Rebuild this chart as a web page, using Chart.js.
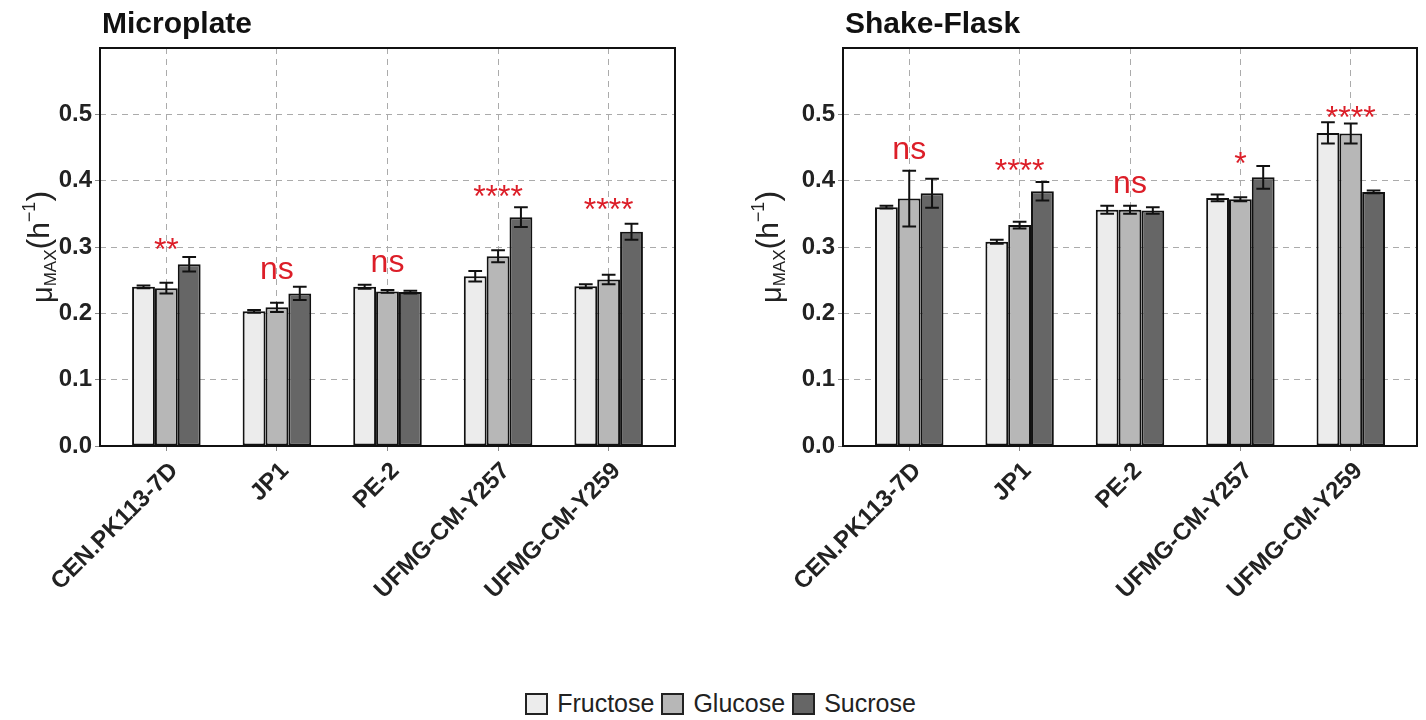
<!DOCTYPE html>
<html>
<head>
<meta charset="utf-8">
<script src="https://cdn.jsdelivr.net/npm/chart.js@4.4.1/dist/chart.umd.min.js"></script>
<style>
  body { margin: 0; background: #fff; width: 1426px; height: 720px; position: relative; overflow: hidden;
         font-family: "Liberation Sans", Arial, sans-serif; }
  canvas { position: absolute; top: 0; }
  #microplate { left: 0; }
  #flask { left: 713px; }
  #legend { position: absolute; left: 0; top: 689px; width: 1434px; display: flex; justify-content: center;
            align-items: center; font-size: 25px; color: #222; }
  #legend span.sw { display: inline-block; width: 19px; height: 18px; border: 2px solid #222; margin: 0 9px 0 7px; }
</style>
</head>
<body>
<canvas id="microplate" width="713" height="660"></canvas>
<canvas id="flask" width="713" height="660"></canvas>
<div id="legend">
  <span class="sw" style="background:#ececec"></span>Fructose
  <span class="sw" style="background:#b7b7b7"></span>Glucose
  <span class="sw" style="background:#666666"></span>Sucrose
</div>
<script>
const strains = ["CEN.PK113-7D", "JP1", "PE-2", "UFMG-CM-Y257", "UFMG-CM-Y259"];
const sugars = ["Fructose", "Glucose", "Sucrose"];
const sugarColors = ["#ececec", "#b7b7b7", "#666666"];
const yTicks = [0, 0.1, 0.2, 0.3, 0.4, 0.5];

// Microplate: mean and sd per strain
const microFructose = [0.240, 0.203, 0.240, 0.256, 0.241];
const microFructoseSd = [0.002, 0.002, 0.003, 0.008, 0.003];
const microGlucose = [0.238, 0.209, 0.233, 0.286, 0.251];
const microGlucoseSd = [0.008, 0.007, 0.002, 0.009, 0.007];
const microSucrose = [0.274, 0.230, 0.232, 0.345, 0.323];
const microSucroseSd = [0.011, 0.010, 0.002, 0.015, 0.012];
const microSig = ["**", "ns", "ns", "****", "****"];
const microSigY = [0.280, 0.2525, 0.2625, 0.361, 0.340];

// Shake-Flask
const flaskFructose = [0.360, 0.308, 0.356, 0.374, 0.472];
const flaskFructoseSd = [0.002, 0.003, 0.006, 0.005, 0.016];
const flaskGlucose = [0.373, 0.333, 0.356, 0.372, 0.471];
const flaskGlucoseSd = [0.042, 0.005, 0.006, 0.003, 0.015];
const flaskSucrose = [0.381, 0.384, 0.355, 0.405, 0.383];
const flaskSucroseSd = [0.022, 0.014, 0.005, 0.017, 0.002];
const flaskSig = ["ns", "****", "ns", "*", "****"];
const flaskSigY = [0.433, 0.400, 0.3815, 0.410, 0.480];

const FONT = '"Liberation Sans", Arial, sans-serif';

// mu_MAX (h^-1), drawn rotated with sub/superscripts
function drawYTitle(ctx, bx, cy) {
  const parts = [
    { t: "\u03bc", size: 29, dy: 0 },
    { t: "MAX", size: 17, dy: 4 },
    { t: "(", size: 32, dy: -3 },
    { t: "h", size: 30, dy: -3 },
    { t: "\u22121", size: 18, dy: -17 },
    { t: ")", size: 32, dy: -3 }
  ];
  let total = 0;
  parts.forEach(p => {
    ctx.font = p.size + "px " + FONT;
    p.w = ctx.measureText(p.t).width;
    total += p.w;
  });
  ctx.save();
  ctx.translate(bx, cy);
  ctx.rotate(-Math.PI / 2);
  ctx.fillStyle = "#222";
  ctx.textAlign = "left";
  ctx.textBaseline = "alphabetic";
  let px = -total / 2;
  parts.forEach(p => {
    ctx.font = p.size + "px " + FONT;
    ctx.fillText(p.t, px, p.dy);
    px += p.w;
  });
  ctx.restore();
}

function makeChart(id, cfg) {
  const datasets = sugars.map((name, k) => ({
    label: name,
    data: cfg.means[k].map((v, i) => ({ x: i, y: v })),
    sd: cfg.sds[k],
    backgroundColor: sugarColors[k],
    borderColor: "#111",
    borderWidth: 2,
    borderSkipped: false,
    categoryPercentage: 0.62,
    barPercentage: 1.0
  }));

  const errorBars = {
    id: "errorBars",
    afterDatasetsDraw(chart) {
      const ctx = chart.ctx;
      const y = chart.scales.y;
      ctx.save();
      ctx.strokeStyle = "#111";
      ctx.lineWidth = 2;
      chart.data.datasets.forEach((ds, di) => {
        chart.getDatasetMeta(di).data.forEach((bar, i) => {
          const v = ds.data[i].y, sd = ds.sd[i];
          const half = bar.width * 0.3;
          const top = y.getPixelForValue(v + sd), bot = y.getPixelForValue(v - sd);
          ctx.beginPath();
          ctx.moveTo(bar.x, top); ctx.lineTo(bar.x, bot);
          ctx.moveTo(bar.x - half, top); ctx.lineTo(bar.x + half, top);
          ctx.moveTo(bar.x - half, bot); ctx.lineTo(bar.x + half, bot);
          ctx.stroke();
        });
      });
      ctx.restore();
    }
  };

  const decor = {
    id: "decor",
    afterDraw(chart) {
      const { ctx, chartArea: a } = chart;
      const x = chart.scales.x, y = chart.scales.y;
      ctx.save();
      ctx.strokeStyle = "#111";
      ctx.lineWidth = 2;
      ctx.strokeRect(a.left, a.top, a.right - a.left, a.bottom - a.top);

      ctx.fillStyle = "#111";
      ctx.font = "bold 30px " + FONT;
      ctx.textAlign = "left";
      ctx.textBaseline = "alphabetic";
      ctx.fillText(cfg.title, a.left + 2, 33);

      ctx.fillStyle = "#dc1e28";
      ctx.font = "32px " + FONT;
      ctx.textAlign = "center";
      cfg.sig.forEach((s, i) => {
        ctx.fillText(s, x.getPixelForValue(i), y.getPixelForValue(cfg.sigY[i]));
      });
      ctx.restore();
      drawYTitle(ctx, cfg.titleX, (a.top + a.bottom) / 2);
    }
  };

  return new Chart(document.getElementById(id), {
    type: "bar",
    data: { datasets },
    plugins: [errorBars, decor],
    options: {
      responsive: false,
      animation: false,
      layout: { padding: { top: 48, right: cfg.padRight, left: 0, bottom: 0 } },
      plugins: { legend: { display: false }, tooltip: { enabled: false } },
      scales: {
        x: {
          type: "linear",
          min: -0.6,
          max: 4.6,
          offset: false,
          afterBuildTicks: s => { s.ticks = strains.map((_, i) => ({ value: i })); },
          afterFit: s => { s.height = 214; },
          ticks: {
            callback: v => strains[v],
            autoSkip: false,
            minRotation: 45,
            maxRotation: 45,
            padding: 6,
            labelOffset: 8,
            color: "#222",
            font: { family: FONT, size: 24, weight: "bold" }
          },
          grid: { offset: false, color: "#ababab", lineWidth: 1, tickColor: "#888", tickLength: 5 },
          border: { display: false, dash: [6, 5] }
        },
        y: {
          min: 0,
          max: 0.6,
          afterBuildTicks: s => { s.ticks = yTicks.map(v => ({ value: v })); },
          afterFit: s => { s.width = cfg.axisWidth; },
          ticks: {
            callback: v => v.toFixed(1),
            padding: 3,
            color: "#222",
            font: { family: FONT, size: 24, weight: "bold" }
          },
          grid: { color: "#ababab", lineWidth: 1, tickColor: "#888", tickLength: 5 },
          border: { display: false, dash: [6, 5] }
        }
      }
    }
  });
}

makeChart("microplate", {
  title: "Microplate",
  means: [microFructose, microGlucose, microSucrose],
  sds: [microFructoseSd, microGlucoseSd, microSucroseSd],
  sig: microSig,
  sigY: microSigY,
  axisWidth: 100,
  padRight: 38,
  titleX: 52
});

makeChart("flask", {
  title: "Shake-Flask",
  means: [flaskFructose, flaskGlucose, flaskSucrose],
  sds: [flaskFructoseSd, flaskGlucoseSd, flaskSucroseSd],
  sig: flaskSig,
  sigY: flaskSigY,
  axisWidth: 130,
  padRight: 9,
  titleX: 68
});
</script>
</body>
</html>
